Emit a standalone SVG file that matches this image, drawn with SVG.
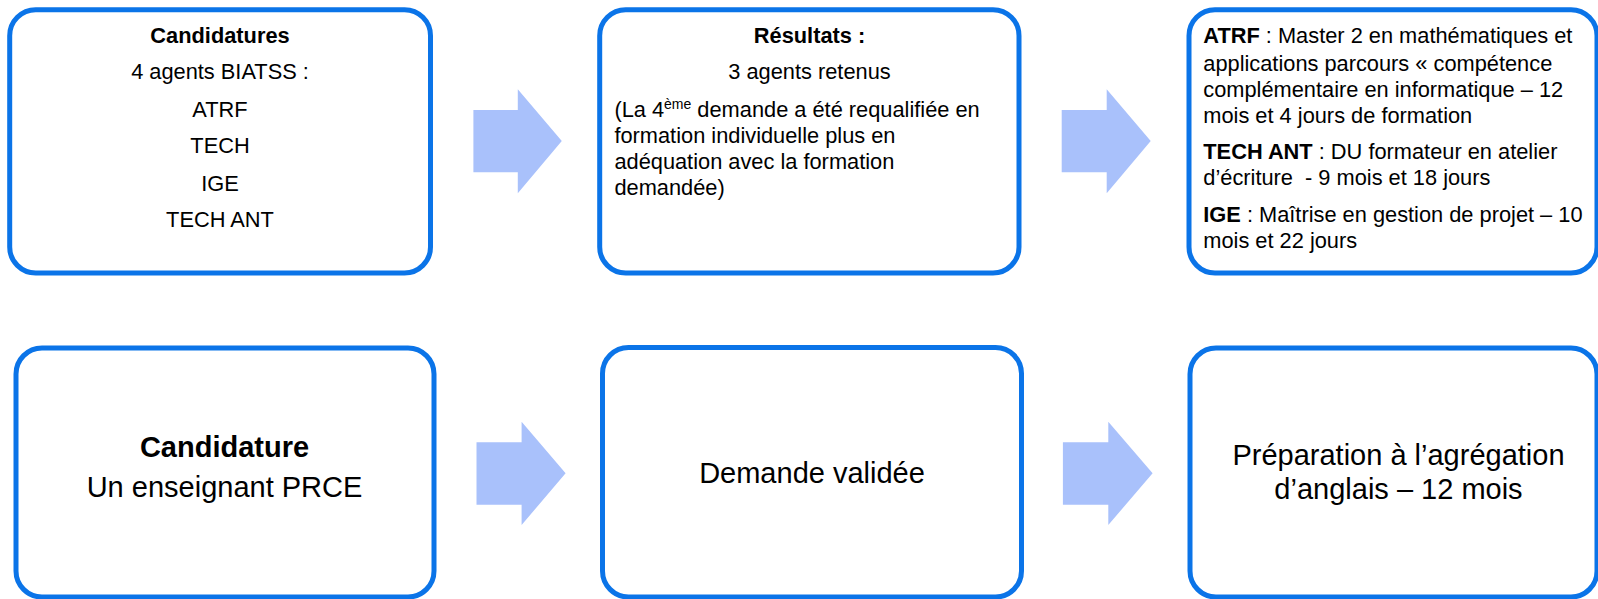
<svg xmlns="http://www.w3.org/2000/svg" width="1598" height="599" viewBox="0 0 1598 599">
<style>
.box{fill:#ffffff;stroke:#0B74E8;stroke-width:5}
.arrow{fill:#A9C1FB;stroke:none}
text{font-family:"Liberation Sans",Arial,sans-serif;fill:#000000}
.s{font-size:21.8px}
.L{font-size:29px}
.b{font-weight:bold}
.c{text-anchor:middle}
.sup{font-size:14px}
</style>
<rect width="1598" height="599" fill="#ffffff"/>
<g id="connectors">
<polygon class="arrow" points="473.4,110 517.8,110 517.8,89.3 561.8,141 517.8,193.3 517.8,172.3 473.4,172.3"/>
<polygon class="arrow" points="1061.7,110 1106.7,110 1106.7,89.3 1150.7,141 1106.7,193.3 1106.7,172.3 1061.7,172.3"/>
<polygon class="arrow" points="476.5,442.3 521.6,442.3 521.6,421.7 565.6,473.3 521.6,525 521.6,504.7 476.5,504.7"/>
<polygon class="arrow" points="1062.9,442.3 1108.3,442.3 1108.3,421.7 1152.6,473.3 1108.3,525 1108.3,504.7 1062.9,504.7"/>
</g>
<g id="node-candidatures">
<rect class="box" x="9.7" y="9.7" width="420.8" height="263.3" rx="26" ry="26"/>
<text class="s b c" x="220" y="43.3">Candidatures</text>
<text class="s c" x="220" y="79">4 agents BIATSS :</text>
<text class="s c" x="220" y="117.3">ATRF</text>
<text class="s c" x="220" y="153.3">TECH</text>
<text class="s c" x="220" y="190.7">IGE</text>
<text class="s c" x="220" y="226.7">TECH ANT</text>
</g>
<g id="node-resultats">
<rect class="box" x="599.7" y="9.7" width="419.3" height="263.3" rx="26" ry="26"/>
<text class="s b c" x="809.5" y="43.3">Résultats :</text>
<text class="s c" x="809.5" y="79">3 agents retenus</text>
<text class="s" x="614.4" y="117.3">(La 4<tspan class="sup" dy="-8">ème</tspan><tspan dy="8"> demande a été requalifiée en</tspan></text>
<text class="s" x="614.4" y="143.3">formation individuelle plus en</text>
<text class="s" x="614.4" y="169.3">adéquation avec la formation</text>
<text class="s" x="614.4" y="195">demandée)</text>
</g>
<g id="node-formations">
<rect class="box" x="1189" y="9.7" width="408" height="263.3" rx="26" ry="26"/>
<text class="s" x="1203.3" y="43.3"><tspan class="b">ATRF</tspan> : Master 2 en mathématiques et</text>
<text class="s" x="1203.3" y="70.7">applications parcours « compétence</text>
<text class="s" x="1203.3" y="96.7">complémentaire en informatique – 12</text>
<text class="s" x="1203.3" y="122.7">mois et 4 jours de formation</text>
<text class="s" x="1203.3" y="159.3"><tspan class="b">TECH ANT</tspan> : DU formateur en atelier</text>
<text class="s" x="1203.3" y="185.3" xml:space="preserve">d’écriture  - 9 mois et 18 jours</text>
<text class="s" x="1203.3" y="222"><tspan class="b">IGE</tspan> : Maîtrise en gestion de projet – 10</text>
<text class="s" x="1203.3" y="248">mois et 22 jours</text>
</g>
<g id="node-candidature">
<rect class="box" x="16" y="348" width="418" height="249" rx="26" ry="26"/>
<text class="L b c" x="224.5" y="457.3">Candidature</text>
<text class="L c" x="224.5" y="497">Un enseignant PRCE</text>
</g>
<g id="node-validee">
<rect class="box" x="602.5" y="347.5" width="419" height="249.5" rx="26" ry="26"/>
<text class="L c" x="812" y="482.7">Demande validée</text>
</g>
<g id="node-agregation">
<rect class="box" x="1190" y="348" width="407" height="249" rx="26" ry="26"/>
<text class="L c" x="1398.5" y="465">Préparation à l’agrégation</text>
<text class="L c" x="1398.5" y="499.3">d’anglais – 12 mois</text>
</g>
</svg>
